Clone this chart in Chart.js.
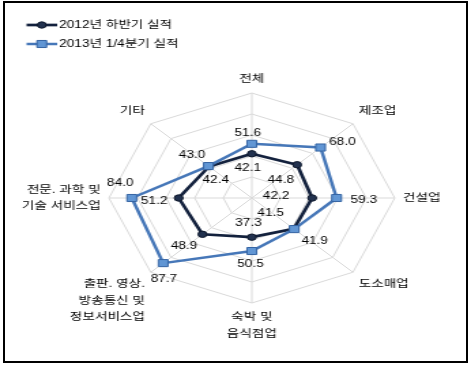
<!DOCTYPE html>
<html><head><meta charset="utf-8">
<script src="https://cdn.jsdelivr.net/npm/chart.js@4.4.0/dist/chart.umd.min.js"></script>
<style>
html,body{margin:0;padding:0;background:#fff;}
#wrap{position:relative;width:471px;height:365px;overflow:hidden;background:#fff;}
#c{position:absolute;left:0;top:0;transform-origin:0 0;transform:scaleX(1.36127);}
#frame{position:absolute;left:3px;top:1px;width:465px;height:362px;box-sizing:border-box;border:2px solid #000;pointer-events:none;}
</style></head>
<body><div id="wrap"><canvas id="c" width="346" height="365"></canvas><div id="frame"></div></div>
<script>
const categories = ['전체', '제조업', '건설업', '도소매업', ['숙박 및', '음식점업'], ['출판. 영상.', '방송통신 및', '정보서비스업'], ['전문. 과학 및', '기술 서비스업'], '기타'];
const seriesNames = ['2012년 하반기 실적', '2013년 1/4분기 실적'];
const values2012H2 = [42.1, 44.8, 42.2, 41.5, 37.3, 48.9, 51.2, 42.4];
const values2013Q1 = [51.6, 68.0, 59.3, 41.9, 50.5, 87.7, 84.0, 43.0];
const radialTicks = [0, 20, 40, 60, 80, 100];

// label offsets (px) relative to each point, per dataset
const labelOffsets = [
  [[-3, 14], [-12, 16], [-26.5, -2], [-17, -16], [-2.5, -14], [-13.5, 12], [-18, 3.5], [5, 13.5]],
  [[-3, -11], [16, -5.5], [20, 2], [15, 12], [-1, 13], [0.5, 16], [-8.5, -15], [-12, -10.5]]
];

const FONT = '"Liberation Sans", "Noto Sans CJK KR", sans-serif';

const valueLabels = {
  id: 'valueLabels',
  afterDatasetsDraw(chart) {
    const ctx = chart.ctx;
    ctx.save();
    ctx.font = '10px ' + FONT;
    ctx.fillStyle = '#000';
    ctx.textAlign = 'center';
    ctx.textBaseline = 'middle';
    chart.data.datasets.forEach((ds, di) => {
      const meta = chart.getDatasetMeta(di);
      meta.data.forEach((pt, i) => {
        const off = labelOffsets[di][i];
        ctx.fillText(ds.data[i].toFixed(1), pt.x + off[0], pt.y + off[1]);
      });
    });
    ctx.restore();
  }
};

const customLegend = {
  id: 'customLegend',
  afterDraw(chart) {
    const ctx = chart.ctx;
    ctx.save();
    const rows = [25, 44];
    chart.data.datasets.forEach((ds, di) => {
      const y = rows[di];
      ctx.strokeStyle = ds.borderColor;
      ctx.lineWidth = ds.borderWidth;
      ctx.beginPath();
      ctx.moveTo(19.5, y);
      ctx.lineTo(42, y);
      ctx.stroke();
      ctx.fillStyle = ds.pointBackgroundColor;
      ctx.strokeStyle = ds.pointBorderColor;
      ctx.lineWidth = ds.pointBorderWidth;
      ctx.beginPath();
      if (ds.pointStyle === 'rect') {
        const s = ds.pointRadius * Math.SQRT1_2;
        ctx.rect(30.7 - s, y - s, 2 * s, 2 * s);
      } else {
        ctx.arc(30.7, y, ds.pointRadius, 0, Math.PI * 2);
      }
      ctx.fill();
      ctx.stroke();
      ctx.fillStyle = '#000';
      ctx.font = '10px ' + FONT;
      ctx.textAlign = 'left';
      ctx.textBaseline = 'middle';
      ctx.fillText(ds.label, 43.5, y + 0.5);
    });
    ctx.restore();
  }
};

new Chart(document.getElementById('c'), {
  type: 'radar',
  data: {
    labels: categories,
    datasets: [
      {
        label: seriesNames[0],
        data: values2012H2,
        order: 2,
        borderColor: '#13213d',
        borderWidth: 2.7,
        fill: false,
        tension: 0,
        pointStyle: 'circle',
        pointRadius: 3.2,
        pointBackgroundColor: '#22324f',
        pointBorderColor: '#0e182c',
        pointBorderWidth: 1
      },
      {
        label: seriesNames[1],
        data: values2013Q1,
        order: 1,
        borderColor: '#4677b8',
        borderWidth: 2.5,
        fill: false,
        tension: 0,
        pointStyle: 'rect',
        pointRadius: 5,
        pointBackgroundColor: '#6196d4',
        pointBorderColor: '#3564a3',
        pointBorderWidth: 1
      }
    ]
  },
  options: {
    responsive: false,
    animation: false,
    layout: { padding: 0 },
    plugins: { legend: { display: false }, tooltip: { enabled: false } },
    scales: {
      r: {
        min: 0,
        max: 100,
        afterBuildTicks: (s) => { s.ticks = radialTicks.map(v => ({ value: v })); },
        afterSetDimensions: (s) => { s.xCenter = 185; s.yCenter = 198; s.drawingArea = 105; },
        ticks: { display: false, stepSize: 20 },
        grid: { color: '#d9d9d9', lineWidth: 1 },
        angleLines: { color: '#d9d9d9', lineWidth: 1 },
        pointLabels: {
          color: '#000',
          padding: 6,
          font: { family: FONT, size: 10, lineHeight: 1.65 }
        }
      }
    }
  },
  plugins: [valueLabels, customLegend]
});
</script>
</body></html>
